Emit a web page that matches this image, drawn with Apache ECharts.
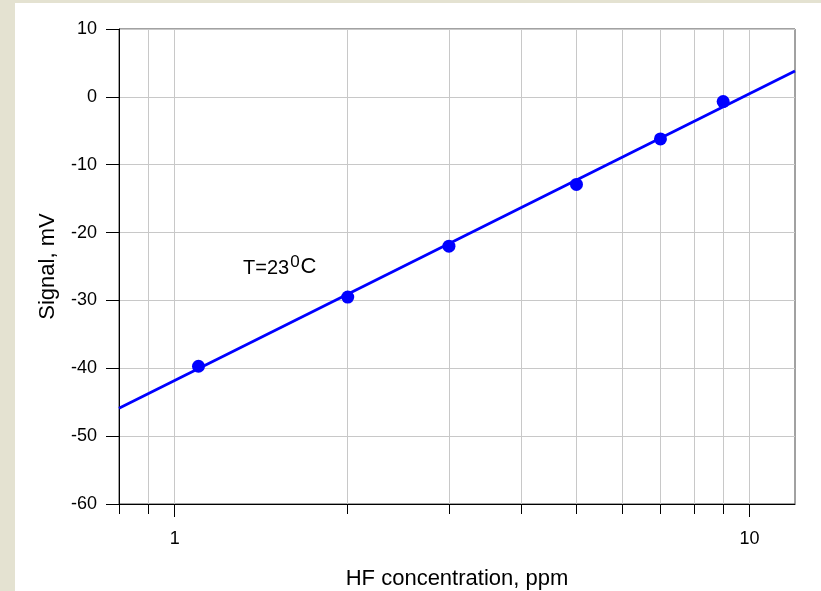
<!DOCTYPE html>
<html>
<head>
<meta charset="utf-8">
<script src="https://cdn.jsdelivr.net/npm/echarts@6/dist/echarts.min.js"></script>
<style>
  html, body { margin: 0; padding: 0; }
  body { width: 821px; height: 591px; position: relative; overflow: hidden;
         background: #e4e2d1; }
  #paper { position: absolute; left: 15px; top: 3px; right: 0; bottom: 0; background: #fff; }
  #chart { position: absolute; left: 0; top: 0; width: 821px; height: 591px; }
</style>
</head>
<body>
<div id="paper"></div>
<div id="chart"></div>
<script>
// measured points
const concentration = [1.1, 2, 3, 5, 7, 9]
const signal = [-39.7, -29.5, -22, -12.9, -6.2, -0.7]
// fitted line, ends at the plot edges
const fitX = [0.8, 12]
const fitY = [-45.9, 3.8]
// x axis ticks
const xTicks = [0.8, 0.9, 1, 2, 3, 4, 5, 6, 7, 8, 9, 10]
const xLabels = [1, 10]

const font = 'Arial, "Liberation Sans", sans-serif'
const myChart = echarts.init(document.getElementById('chart'))

myChart.setOption({
    backgroundColor: 'transparent',
    animation: false,
    grid: {
        left: 119, top: 29, width: 676, height: 475,
        show: true, borderColor: '#444', borderWidth: 1,
        containLabel: false,
        outerBoundsMode: 'none'
    },
    xAxis: [{
        type: 'log',
        logBase: 10,
        min: 0.8,
        max: 12,
        position: 'bottom',
        name: 'HF concentration, ppm',
        nameLocation: 'middle',
        nameGap: 64,
        nameTextStyle: { fontSize: 22, color: '#000', fontFamily: font },
        axisLine: { show: true, onZero: false, lineStyle: { color: '#000', width: 1 } },
        axisTick: { show: true, length: 10, customValues: xTicks, lineStyle: { color: '#000' } },
        axisLabel: { customValues: xLabels, fontSize: 18, color: '#000', fontFamily: font, margin: 26 },
        splitLine: { show: true, lineStyle: { color: '#c8c8c8', width: 1 } }
    }, {
        type: 'log',
        logBase: 10,
        min: 0.8,
        max: 12,
        position: 'bottom',
        axisLine: { show: false, onZero: false },
        axisTick: { show: true, length: 13, customValues: xLabels, lineStyle: { color: '#000' } },
        axisLabel: { show: false },
        splitLine: { show: false }
    }],
    yAxis: {
        type: 'value',
        min: -60,
        max: 10,
        interval: 10,
        name: 'Signal, mV',
        nameLocation: 'middle',
        nameGap: 60,
        nameTextStyle: { fontSize: 22, color: '#000', fontFamily: font },
        axisLine: { show: true, onZero: false, lineStyle: { color: '#000', width: 1 } },
        axisTick: { show: true, length: 13, lineStyle: { color: '#000' } },
        axisLabel: { fontSize: 18, color: '#000', fontFamily: font, margin: 22 },
        splitLine: { show: true, lineStyle: { color: '#c8c8c8', width: 1 } }
    },
    series: [{
        type: 'line',
        data: fitX.map((x, i) => [x, fitY[i]]),
        showSymbol: false,
        lineStyle: { color: '#0000ff', width: 2.8 },
        z: 2
    }, {
        type: 'scatter',
        data: concentration.map((x, i) => [x, signal[i]]),
        symbol: 'circle',
        symbolSize: 13,
        itemStyle: { color: '#0000ff', opacity: 1 },
        z: 3
    }],
    graphic: [{
        type: 'text',
        left: 243,
        top: 254,
        z: 10,
        style: {
            text: '{b|T=23}{sup|0}{c|C}',
            fill: '#000',
            rich: {
                b: { fontSize: 20, lineHeight: 24, fontFamily: font, verticalAlign: 'bottom' },
                sup: { fontSize: 17, lineHeight: 17, fontFamily: font, verticalAlign: 'top', padding: [0, 1, 0, 1] },
                c: { fontSize: 22, lineHeight: 24, fontFamily: font, verticalAlign: 'bottom' }
            }
        }
    }]
})
</script>
</body>
</html>
